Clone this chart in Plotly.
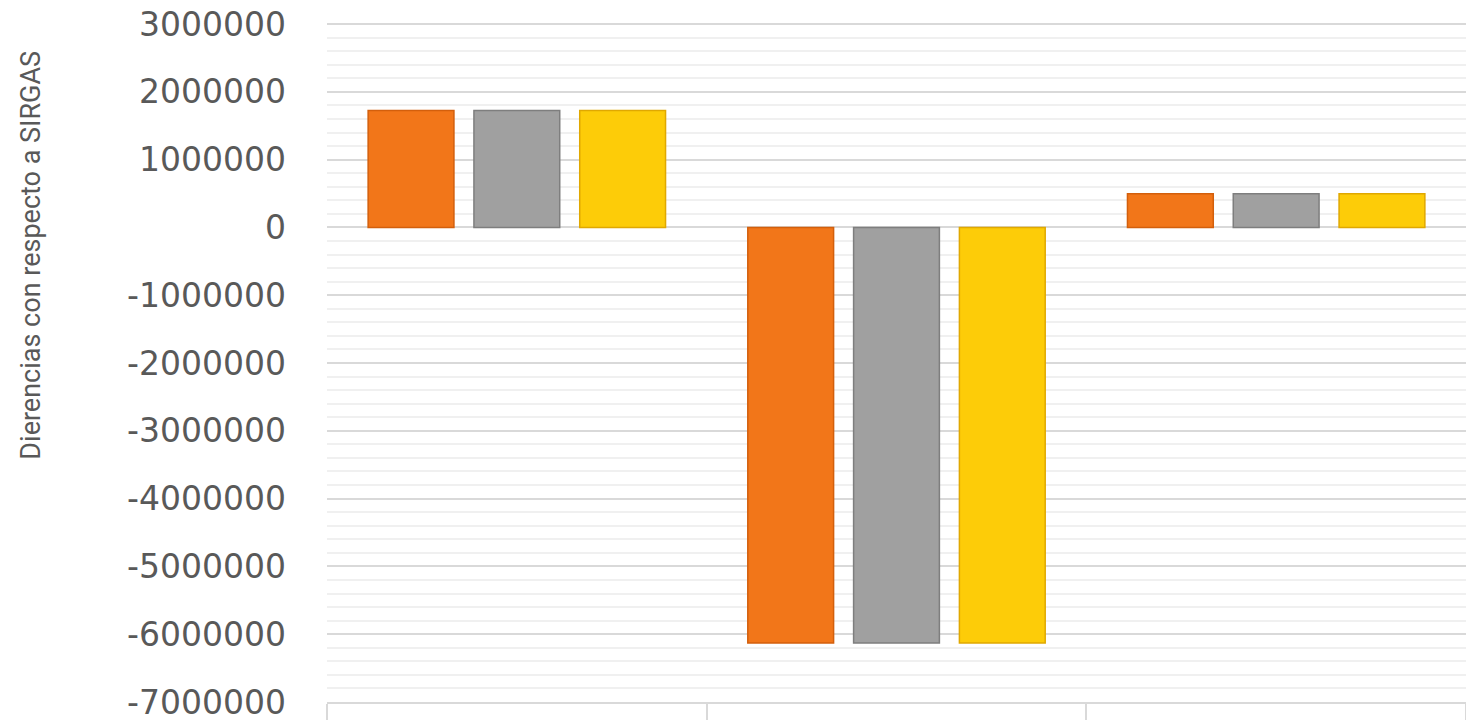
import plotly.graph_objects as go

categories = ["A", "B", "C"]
series_names = ["Serie 1", "Serie 2", "Serie 3"]
series_values = [
    [1726000, -6130000, 496000],
    [1726000, -6130000, 496000],
    [1726000, -6130000, 496000],
]
series_colors = ["#F27619", "#A0A0A0", "#FDCC08"]
line_colors = ["#D35F0C", "#7E7E7E", "#E0A800"]
tick_vals = list(range(-7000000, 3000001, 1000000))
tick_text = [str(v) for v in tick_vals]

fig = go.Figure()
for name, vals, col, lc in zip(series_names, series_values, series_colors, line_colors):
    fig.add_trace(go.Bar(
        x=categories, y=vals, name=name,
        marker=dict(color=col, line=dict(color=lc, width=1.5)),
    ))

fig.update_layout(
    width=1466, height=722,
    margin=dict(l=327, r=0, t=22, b=16),
    paper_bgcolor="white", plot_bgcolor="white",
    barmode="group", bargap=0.164, bargroupgap=0.189,
    showlegend=False,
    font=dict(family="DejaVu Sans", color="#595959"),
    xaxis=dict(
        type="category", showticklabels=False,
        showline=True, linecolor="#d9d9d9", linewidth=2,
        ticks="outside", tickson="boundaries", ticklen=16,
        tickcolor="#d9d9d9", tickwidth=2, showgrid=False,
    ),
    yaxis=dict(
        range=[-7000000, 3030000],
        tickvals=tick_vals, ticktext=tick_text,
        tickfont=dict(family="DejaVu Sans", size=33, color="#595959"),
        ticks="", ticklabelstandoff=40, ticklabeloverflow="allow",
        showgrid=True, gridcolor="#d9d9d9", gridwidth=1.5,
        zeroline=True, zerolinecolor="#d9d9d9", zerolinewidth=1.5,
        minor=dict(dtick=200000, showgrid=True, gridcolor="#f0f0f0", gridwidth=1.5),
    ),
)

fig.add_annotation(
    text="Dierencias con respecto a SIRGAS",
    xref="paper", yref="paper",
    x=-327 / 1139 + 31 / 1139, y=(706 - 257) / 684,
    xanchor="center", yanchor="middle",
    textangle=-90, showarrow=False,
    font=dict(family="Roboto", size=27, color="#595959"),
)

fig.write_html("out.html")
